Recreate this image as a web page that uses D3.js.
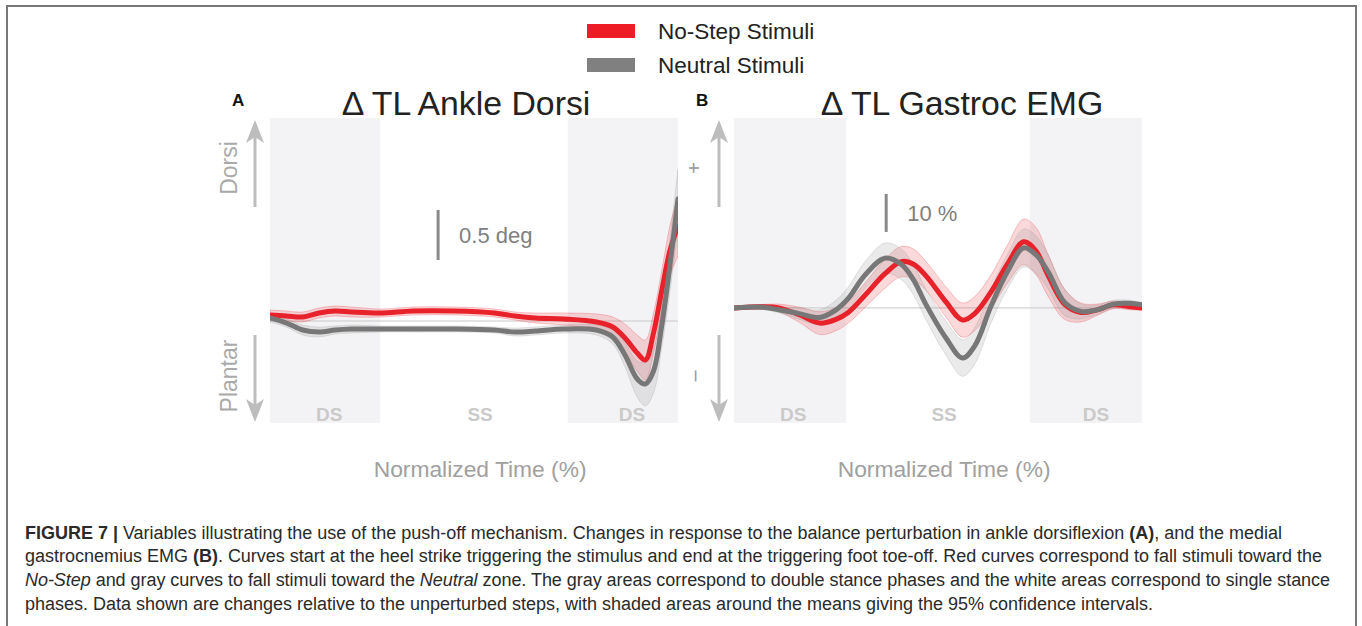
<!DOCTYPE html>
<html>
<head>
<meta charset="utf-8">
<script src="https://cdn.jsdelivr.net/npm/d3@7"></script>
<style>
body { margin: 0; background: #fff; }
svg { display: block; font-family: 'Liberation Sans', Arial, sans-serif; }
</style>
</head>
<body>
<script>
// series names (legend)
var seriesNames = ['No-Step Stimuli', 'Neutral Stimuli']
var phaseLabels = ['DS', 'SS', 'DS']

// panel A: ankle dorsiflexion change (deg) vs normalized time (%)
var timeA = [0, 4, 8, 12, 16, 20, 27, 35, 45, 55, 60, 65, 72, 80, 84, 87, 90, 92, 94, 96, 98, 100]
var noStepA = [0.06, 0.05, 0.04, 0.08, 0.10, 0.09, 0.08, 0.10, 0.10, 0.08, 0.05, 0.03, 0.02, -0.01, -0.06, -0.17, -0.32, -0.39, -0.12, 0.30, 0.70, 0.95]
var neutralA = [0.03, -0.02, -0.09, -0.11, -0.09, -0.08, -0.08, -0.08, -0.08, -0.09, -0.11, -0.10, -0.08, -0.09, -0.16, -0.34, -0.58, -0.63, -0.50, -0.05, 0.55, 1.22]
var noStepCiA = [0.05, 0.05, 0.05, 0.05, 0.05, 0.05, 0.04, 0.04, 0.04, 0.04, 0.04, 0.05, 0.06, 0.08, 0.10, 0.14, 0.18, 0.20, 0.20, 0.20, 0.25, 0.30]
var neutralCiA = [0.04, 0.04, 0.05, 0.05, 0.04, 0.04, 0.03, 0.03, 0.03, 0.03, 0.04, 0.04, 0.04, 0.05, 0.07, 0.12, 0.18, 0.22, 0.22, 0.22, 0.26, 0.30]
var phasesA = [[0, 27], [73, 100]]

// panel B: gastrocnemius EMG change (%) vs normalized time (%)
var timeB = [0, 7, 11, 16, 21, 25, 28, 32, 37, 41, 44, 47, 52, 56, 59, 63, 67, 71, 74, 77, 81, 85, 89, 93, 97, 100]
var noStepB = [0, 0.3, 0, -1.8, -4.0, -3.0, -1.2, 3.2, 9.0, 12.2, 11.5, 8.5, 1.5, -3.2, -1.5, 4.2, 11.5, 17.4, 15.0, 8.5, 1.0, -1.2, -0.5, 0.8, 0.3, 0]
var neutralB = [0, 0.2, -0.5, -1.5, -2.5, -0.5, 2.5, 8.5, 13.1, 11.5, 7.4, 1.0, -8.0, -13.2, -10.0, 0.5, 9.5, 15.8, 14.0, 9.5, 1.5, -0.9, -0.5, 1.0, 1.2, 0.8]
var noStepCiB = [0.5, 0.6, 1.0, 2.0, 3.0, 3.0, 2.8, 3.2, 3.8, 4.0, 4.0, 3.8, 4.0, 4.5, 4.5, 4.5, 5.0, 6.0, 6.2, 5.5, 4.0, 2.5, 1.5, 1.0, 0.8, 0.6]
var neutralCiB = [0.5, 0.6, 0.8, 1.5, 2.0, 2.5, 3.0, 3.5, 4.0, 4.0, 4.0, 4.0, 4.5, 4.8, 4.8, 4.5, 4.5, 5.0, 5.0, 4.5, 3.5, 2.0, 1.2, 1.0, 0.8, 0.6]
var phasesB = [[0, 27.5], [72.5, 100]]

var captionLines = [
  [['b', 'FIGURE 7 | '], ['n', 'Variables illustrating the use of the push-off mechanism. Changes in response to the balance perturbation in ankle dorsiflexion '], ['b', '(A)'], ['n', ', and the medial']],
  [['n', 'gastrocnemius EMG '], ['b', '(B)'], ['n', '. Curves start at the heel strike triggering the stimulus and end at the triggering foot toe-off. Red curves correspond to fall stimuli toward the']],
  [['i', 'No-Step'], ['n', ' and gray curves to fall stimuli toward the '], ['i', 'Neutral'], ['n', ' zone. The gray areas correspond to double stance phases and the white areas correspond to single stance']],
  [['n', 'phases. Data shown are changes relative to the unperturbed steps, with shaded areas around the means giving the 95% confidence intervals.']]
]
// right edge of each caption line in the printed figure
var captionEnds = [1282, 1322, 1330, 1153]

var colors = {
  noStep: '#e8222b',
  neutral: '#777777',
  noStepBand: 'rgba(235,40,50,0.18)',
  neutralBand: 'rgba(150,150,150,0.2)',
  phase: '#f3f3f5',
  arrow: '#bdbdbd'
}

var plotTop = 118, plotBottom = 423, plotWidth = 408

var svg = d3.select('body').append('svg').
  attr('width', 1362).
  attr('height', 626)

// figure frame
svg.append('rect').
  attr('x', 7).attr('y', 6).
  attr('width', 1349).attr('height', 700).
  attr('fill', 'none').
  attr('stroke', '#777').
  attr('stroke-width', 2)

// legend
var legend = svg.append('g').selectAll('g').
  data(seriesNames).
  enter().append('g').
  attr('transform', function (d, i) { return 'translate(587,' + (24 + i * 34) + ')' })
legend.append('rect').
  attr('width', 48).attr('height', 14).
  attr('fill', function (d, i) { return i === 0 ? '#ee1c25' : '#808080' })
legend.append('text').
  attr('x', 71).attr('y', 15).
  attr('font-size', 22.5).
  attr('fill', '#222').
  text(function (d) { return d })

var panels = [
  {
    letter: 'A', title: '\u0394 TL Ankle Dorsi', left: 270, yDomain: [-1.02, 2.03],
    time: timeA, series: [[noStepA, noStepCiA], [neutralA, neutralCiA]], phases: phasesA,
    upLabel: 'Dorsi', downLabel: 'Plantar', labelX: 229, arrowX: 255,
    bar: { x: 41.2, y0: 0.61, len: 0.5, label: '0.5 deg' }
  },
  {
    letter: 'B', title: '\u0394 TL Gastroc EMG', left: 734, yDomain: [-30.3, 50],
    time: timeB, series: [[noStepB, noStepCiB], [neutralB, neutralCiB]], phases: phasesB,
    upLabel: '+', downLabel: '\u2013', labelX: 693, arrowX: 719,
    bar: { x: 37.3, y0: 20, len: 10, label: '10 %' }
  }
]

panels.forEach(drawPanel)

function drawPanel (p) {
  var x = d3.scaleLinear().domain([0, 100]).range([p.left, p.left + plotWidth])
  var y = d3.scaleLinear().domain(p.yDomain).range([plotBottom, plotTop])
  var g = svg.append('g')

  g.append('clipPath').attr('id', 'clip' + p.letter).
    append('rect').
    attr('x', x(0)).attr('y', plotTop).
    attr('width', plotWidth).attr('height', plotBottom - plotTop)

  // double stance phases
  g.selectAll('rect.phase').
    data(p.phases).
    enter().append('rect').
    attr('class', 'phase').
    attr('x', function (d) { return x(d[0]) }).
    attr('width', function (d) { return x(d[1]) - x(d[0]) }).
    attr('y', plotTop).
    attr('height', plotBottom - plotTop).
    attr('fill', colors.phase)

  var phaseMid = [14.5, 51.5, 88.7]
  g.selectAll('text.phase').
    data(phaseLabels).
    enter().append('text').
    attr('x', function (d, i) { return x(phaseMid[i]) }).
    attr('y', 421).
    attr('text-anchor', 'middle').
    attr('font-size', 19).
    attr('font-weight', 'bold').
    attr('fill', '#cacaca').
    text(function (d) { return d })

  // zero line
  g.append('line').
    attr('x1', x(0)).attr('x2', x(100)).
    attr('y1', y(0)).attr('y2', y(0)).
    attr('stroke', '#c8c8c8').
    attr('stroke-width', 1)

  var area = d3.area().
    curve(d3.curveCatmullRom.alpha(0.5)).
    x(function (d) { return x(d.t) }).
    y0(function (d) { return y(d.v - d.ci) }).
    y1(function (d) { return y(d.v + d.ci) })

  var line = d3.line().
    curve(d3.curveCatmullRom.alpha(0.5)).
    x(function (d) { return x(d.t) }).
    y(function (d) { return y(d.v) })

  var data = p.series.map(function (s) {
    return p.time.map(function (t, i) { return { t: t, v: s[0][i], ci: s[1][i] } })
  })

  var plot = g.append('g').attr('clip-path', 'url(#clip' + p.letter + ')')

  plot.selectAll('path.band').
    data(data).
    enter().append('path').
    attr('class', 'band').
    attr('d', area).
    attr('fill', function (d, i) { return i === 0 ? colors.noStepBand : colors.neutralBand }).
    attr('stroke', function (d, i) { return i === 0 ? 'rgba(235,40,50,0.25)' : 'rgba(150,150,150,0.25)' }).
    attr('stroke-width', 1)

  plot.selectAll('path.mean').
    data(data).
    enter().append('path').
    attr('class', 'mean').
    attr('d', line).
    attr('fill', 'none').
    attr('stroke', function (d, i) { return i === 0 ? colors.noStep : colors.neutral }).
    attr('stroke-width', 5).
    attr('stroke-linecap', 'round')

  // panel letter and title
  g.append('text').
    attr('x', p.left - 38).attr('y', 106).
    attr('font-size', 17).
    attr('font-weight', 'bold').
    attr('fill', '#111').
    text(p.letter)
  g.append('text').
    attr('x', p.left + (p.letter === 'A' ? 196 : 228)).attr('y', 115).
    attr('text-anchor', 'middle').
    attr('font-size', 33.8).
    attr('fill', '#222').
    text(p.title)

  // direction arrows
  var ax = p.arrowX
  g.append('line').
    attr('x1', ax).attr('x2', ax).
    attr('y1', 207).attr('y2', 132).
    attr('stroke', colors.arrow).attr('stroke-width', 3)
  g.append('path').
    attr('d', 'M' + ax + ',120 L' + (ax + 9) + ',143 L' + ax + ',137 L' + (ax - 9) + ',143 Z').
    attr('fill', colors.arrow)
  g.append('line').
    attr('x1', ax).attr('x2', ax).
    attr('y1', 335).attr('y2', 410).
    attr('stroke', colors.arrow).attr('stroke-width', 3)
  g.append('path').
    attr('d', 'M' + ax + ',422 L' + (ax + 9) + ',399 L' + ax + ',405 L' + (ax - 9) + ',399 Z').
    attr('fill', colors.arrow)

  var dirText = [[p.upLabel, 168], [p.downLabel, 376]]
  g.selectAll('text.dir').
    data(dirText).
    enter().append('text').
    attr('class', 'dir').
    attr('transform', function (d) { return 'translate(' + (p.labelX + 8) + ',' + d[1] + ') rotate(-90)' }).
    attr('text-anchor', 'middle').
    attr('font-size', p.letter === 'A' ? 23 : 20).
    attr('fill', p.letter === 'A' ? '#aaa' : '#999').
    text(function (d) { return d[0] })

  // scale bar
  g.append('line').
    attr('x1', x(p.bar.x)).attr('x2', x(p.bar.x)).
    attr('y1', y(p.bar.y0)).attr('y2', y(p.bar.y0 + p.bar.len)).
    attr('stroke', '#8a8a8a').attr('stroke-width', 3)
  g.append('text').
    attr('x', x(p.bar.x) + 21).
    attr('y', (y(p.bar.y0) + y(p.bar.y0 + p.bar.len)) / 2 + 8).
    attr('font-size', 22).
    attr('fill', '#808080').
    text(p.bar.label)

  // x label
  g.append('text').
    attr('x', x(51.5)).attr('y', 477).
    attr('text-anchor', 'middle').
    attr('font-size', 22.8).
    attr('fill', '#a0a0a0').
    text('Normalized Time (%)')
}

// caption, each line stretched to the printed line width
var caption = svg.append('g').attr('font-size', 18).attr('fill', '#2a2a2a')
captionLines.forEach(function (parts, li) {
  var t = caption.append('text').
    attr('x', 25).
    attr('y', 538.5 + li * 23.7)
  parts.forEach(function (part) {
    t.append('tspan').
      attr('font-weight', part[0] === 'b' ? 'bold' : 'normal').
      attr('font-style', part[0] === 'i' ? 'italic' : 'normal').
      text(part[1])
  })
  var n = t.text().length
  var len = t.node().getComputedTextLength()
  t.attr('letter-spacing', ((captionEnds[li] - 25 - len) / (n - 1)).toFixed(3))
})
</script>
</body>
</html>
